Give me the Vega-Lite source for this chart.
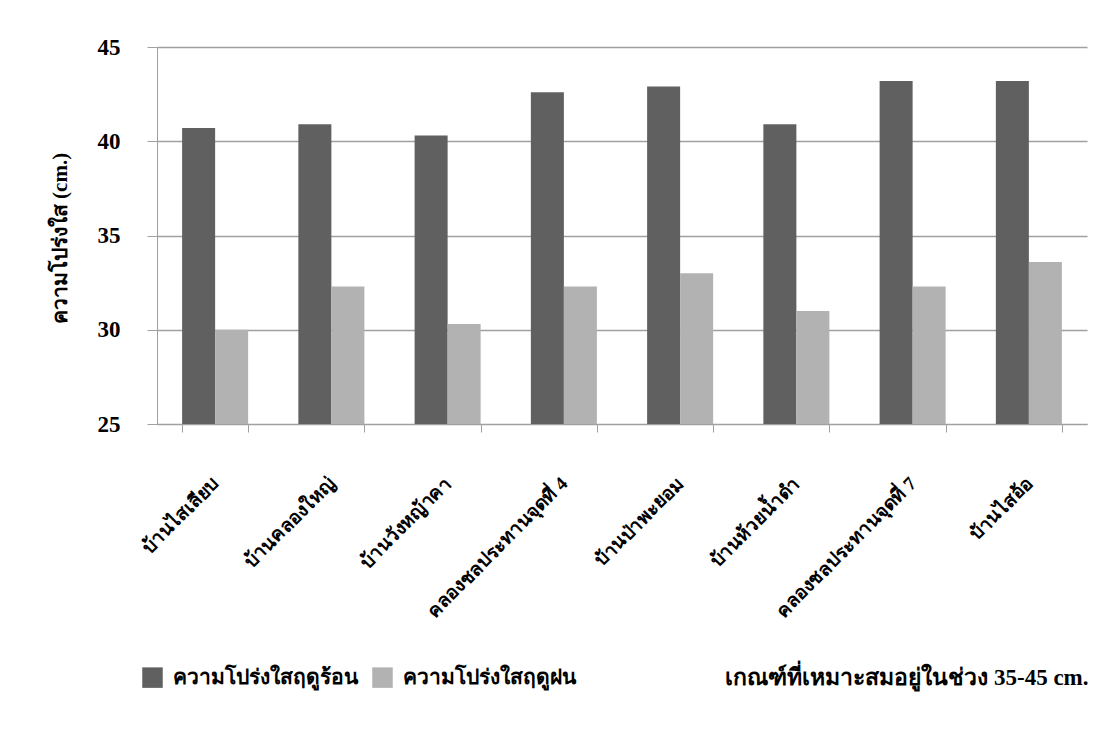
{
  "$schema": "https://vega.github.io/schema/vega-lite/v6.json",
  "width": 930,
  "height": 377,
  "autosize": {"type": "none"},
  "padding": {"left": 157, "top": 47, "right": 11, "bottom": 310},
  "background": "white",
  "data": {
    "values": [
      {"site": "บ้านไสเลียบ", "season": "ความโปร่งใสฤดูร้อน", "value": 40.7},
      {"site": "บ้านไสเลียบ", "season": "ความโปร่งใสฤดูฝน", "value": 30.0},
      {"site": "บ้านคลองใหญ่", "season": "ความโปร่งใสฤดูร้อน", "value": 40.9},
      {"site": "บ้านคลองใหญ่", "season": "ความโปร่งใสฤดูฝน", "value": 32.3},
      {"site": "บ้านวังหญ้าคา", "season": "ความโปร่งใสฤดูร้อน", "value": 40.3},
      {"site": "บ้านวังหญ้าคา", "season": "ความโปร่งใสฤดูฝน", "value": 30.3},
      {"site": "คลองชลประทานจุดที่ 4", "season": "ความโปร่งใสฤดูร้อน", "value": 42.6},
      {"site": "คลองชลประทานจุดที่ 4", "season": "ความโปร่งใสฤดูฝน", "value": 32.3},
      {"site": "บ้านป่าพะยอม", "season": "ความโปร่งใสฤดูร้อน", "value": 42.9},
      {"site": "บ้านป่าพะยอม", "season": "ความโปร่งใสฤดูฝน", "value": 33.0},
      {"site": "บ้านห้วยน้ำดำ", "season": "ความโปร่งใสฤดูร้อน", "value": 40.9},
      {"site": "บ้านห้วยน้ำดำ", "season": "ความโปร่งใสฤดูฝน", "value": 31.0},
      {"site": "คลองชลประทานจุดที่ 7", "season": "ความโปร่งใสฤดูร้อน", "value": 43.2},
      {"site": "คลองชลประทานจุดที่ 7", "season": "ความโปร่งใสฤดูฝน", "value": 32.3},
      {"site": "บ้านไสอ้อ", "season": "ความโปร่งใสฤดูร้อน", "value": 43.2},
      {"site": "บ้านไสอ้อ", "season": "ความโปร่งใสฤดูฝน", "value": 33.6}
    ]
  },
  "mark": {"type": "bar"},
  "encoding": {
    "x": {
      "field": "site",
      "type": "nominal",
      "sort": null,
      "scale": {"paddingInner": 0.432, "paddingOuter": 0.216},
      "axis": {
        "title": "เกณฑ์ที่เหมาะสมอยู่ในช่วง 35-45 cm.",
        "titleX": 931,
        "titleY": 253,
        "titleAlign": "right",
        "titleBaseline": "middle",
        "titleFont": "Liberation Serif",
        "titleFontSize": 23,
        "titleFontWeight": "bold",
        "titleColor": "black",
        "labelAngle": -45,
        "labelAlign": "right",
        "labelBaseline": "middle",
        "labelPadding": 48,
        "labelFont": "Liberation Serif",
        "labelFontSize": 19,
        "labelFontWeight": "bold",
        "labelColor": "black",
        "labelLimit": 0,
        "tickBand": "extent",
        "tickSize": 8,
        "tickColor": "#a0a0a0",
        "domainColor": "#a0a0a0",
        "grid": false
      }
    },
    "xOffset": {
      "field": "season",
      "type": "nominal",
      "sort": ["ความโปร่งใสฤดูร้อน", "ความโปร่งใสฤดูฝน"],
      "scale": {"paddingInner": 0, "paddingOuter": 0}
    },
    "y": {
      "field": "value",
      "type": "quantitative",
      "scale": {"domain": [25, 45], "zero": false, "nice": false},
      "axis": {
        "values": [25, 30, 35, 40, 45],
        "title": "ความโปร่งใส (cm.)",
        "titleX": -97,
        "titleY": 191,
        "titleAngle": 270,
        "titleAlign": "center",
        "titleBaseline": "middle",
        "titleFont": "Liberation Serif",
        "titleFontSize": 21,
        "titleFontWeight": "bold",
        "titleColor": "black",
        "labelFont": "Liberation Serif",
        "labelFontSize": 23,
        "labelFontWeight": "bold",
        "labelColor": "black",
        "labelPadding": 27,
        "tickSize": 10,
        "tickColor": "#a0a0a0",
        "domainColor": "#a0a0a0",
        "grid": true,
        "gridColor": "#a0a0a0",
        "gridWidth": 1.5
      }
    },
    "y2": {"datum": 25},
    "color": {
      "field": "season",
      "type": "nominal",
      "scale": {
        "domain": ["ความโปร่งใสฤดูร้อน", "ความโปร่งใสฤดูฝน"],
        "range": ["#606060", "#b2b2b2"]
      },
      "legend": {
        "title": null,
        "orient": "none",
        "legendX": -15,
        "legendY": 620,
        "direction": "horizontal",
        "symbolType": "square",
        "symbolSize": 420,
        "symbolStrokeWidth": 0,
        "labelFont": "Liberation Serif",
        "labelFontSize": 21,
        "labelFontWeight": "bold",
        "labelColor": "black",
        "labelOffset": 10,
        "columnPadding": 14,
        "labelLimit": 0
      }
    }
  },
  "config": {
    "view": {"stroke": null}
  }
}
